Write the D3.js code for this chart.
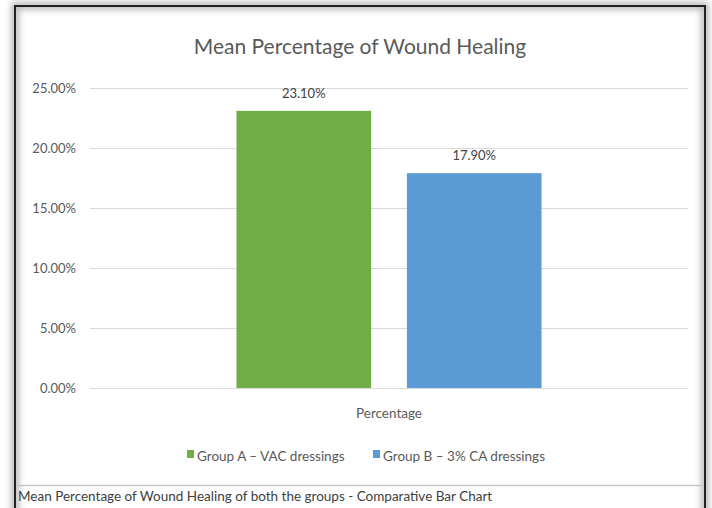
<!DOCTYPE html>
<html>
<head>
<meta charset="utf-8">
<script src="https://cdn.jsdelivr.net/npm/d3@7"></script>
<style>
  body { margin: 0; background: #fff; }
  svg { display: block; font-family: Lato, "Open Sans", sans-serif; }
</style>
</head>
<body>
<div id="chart"></div>
<script>
const categories = ['Percentage'];
const seriesNames = ['Group A \u2013 VAC dressings', 'Group B \u2013 3% CA dressings'];
const seriesValues = [0.231, 0.179];
const seriesColors = ['#70ad47', '#5b9bd5'];
const yTicks = [0, 0.05, 0.10, 0.15, 0.20, 0.25];

const width = 712, height = 508;
const svg = d3.select('#chart').append('svg')
  .attr('width', width)
  .attr('height', height);

// frame with soft inner shadow
const defs = svg.append('defs');
const shadow = defs.append('filter').attr('id', 'blur').attr('x', '-5%').attr('y', '-5%').attr('width', '110%').attr('height', '110%');
shadow.append('feGaussianBlur').attr('stdDeviation', 3);

svg.append('rect')
  .attr('x', 15).attr('y', 6).attr('width', 690).attr('height', 520)
  .attr('fill', 'none').attr('stroke', '#bbb').attr('stroke-width', 8)
  .attr('filter', 'url(#blur)');
svg.append('rect')
  .attr('x', 15).attr('y', 6).attr('width', 690).attr('height', 520)
  .attr('fill', 'none').attr('stroke', '#222').attr('stroke-width', 2);

// separator + caption
svg.append('line')
  .attr('x1', 16).attr('x2', 704).attr('y1', 485.5).attr('y2', 485.5)
  .attr('stroke', '#c8c8c8').attr('stroke-width', 1.5);
svg.append('text')
  .attr('x', 18).attr('y', 501)
  .attr('font-size', '13.5px').attr('fill', '#404040')
  .text('Mean Percentage of Wound Healing of both the groups - Comparative Bar Chart');

// title
svg.append('text')
  .attr('x', 360).attr('y', 54)
  .attr('text-anchor', 'middle')
  .attr('font-size', '21px').attr('fill', '#595959')
  .text('Mean Percentage of Wound Healing');

const plot = { left: 90, right: 688, top: 88, bottom: 388 };

const y = d3.scaleLinear().domain([0, 0.25]).range([plot.bottom, plot.top]);
const x0 = d3.scaleBand().domain(categories).range([plot.left, plot.right]).paddingInner(0).paddingOuter(0.48);
const x1 = d3.scaleBand().domain(seriesNames).range([0, x0.bandwidth()]).paddingInner(0.21);

// gridlines
svg.append('g')
  .selectAll('line')
  .data(yTicks)
  .join('line')
  .attr('x1', plot.left).attr('x2', plot.right)
  .attr('y1', d => Math.round(y(d)) + 0.5).attr('y2', d => Math.round(y(d)) + 0.5)
  .attr('stroke', '#d9d9d9').attr('stroke-width', 1.2);

// y axis labels
const yAxis = d3.axisLeft(y).tickValues(yTicks).tickFormat(d3.format('.2%')).tickSize(0).tickPadding(0);
const yg = svg.append('g').attr('transform', `translate(76,0)`).call(yAxis);
yg.select('.domain').remove();
yg.selectAll('text').attr('font-size', '13px').attr('fill', '#595959')
  .attr('font-family', 'Lato, "Open Sans", sans-serif');

// bars
const groups = svg.append('g')
  .selectAll('g')
  .data(categories)
  .join('g')
  .attr('transform', d => `translate(${x0(d)},0)`);

groups.selectAll('rect')
  .data(() => seriesNames.map((s, i) => ({ s, v: seriesValues[i], c: seriesColors[i] })))
  .join('rect')
  .attr('x', d => x1(d.s))
  .attr('y', d => y(d.v))
  .attr('width', x1.bandwidth())
  .attr('height', d => y(0) - y(d.v))
  .attr('fill', d => d.c);

groups.selectAll('text')
  .data(() => seriesNames.map((s, i) => ({ s, v: seriesValues[i] })))
  .join('text')
  .attr('x', d => x1(d.s) + x1.bandwidth() / 2)
  .attr('y', d => y(d.v) - 13)
  .attr('text-anchor', 'middle')
  .attr('font-size', '13px').attr('fill', '#404040')
  .text(d => d3.format('.2%')(d.v));

// x axis category label
svg.append('g')
  .selectAll('text')
  .data(categories)
  .join('text')
  .attr('x', d => x0(d) + x0.bandwidth() / 2)
  .attr('y', 418)
  .attr('text-anchor', 'middle')
  .attr('font-size', '13.5px').attr('fill', '#595959')
  .text(d => d);

// legend
const legendX = [187, 373];
const legend = svg.append('g')
  .selectAll('g')
  .data(seriesNames)
  .join('g')
  .attr('transform', (d, i) => `translate(${legendX[i]},456)`);
legend.append('rect')
  .attr('x', 0).attr('y', -6).attr('width', 7).attr('height', 8)
  .attr('fill', (d, i) => seriesColors[i]);
legend.append('text')
  .attr('x', 10).attr('y', 5)
  .attr('font-size', '13.5px').attr('fill', '#595959')
  .text(d => d);
</script>
</body>
</html>
